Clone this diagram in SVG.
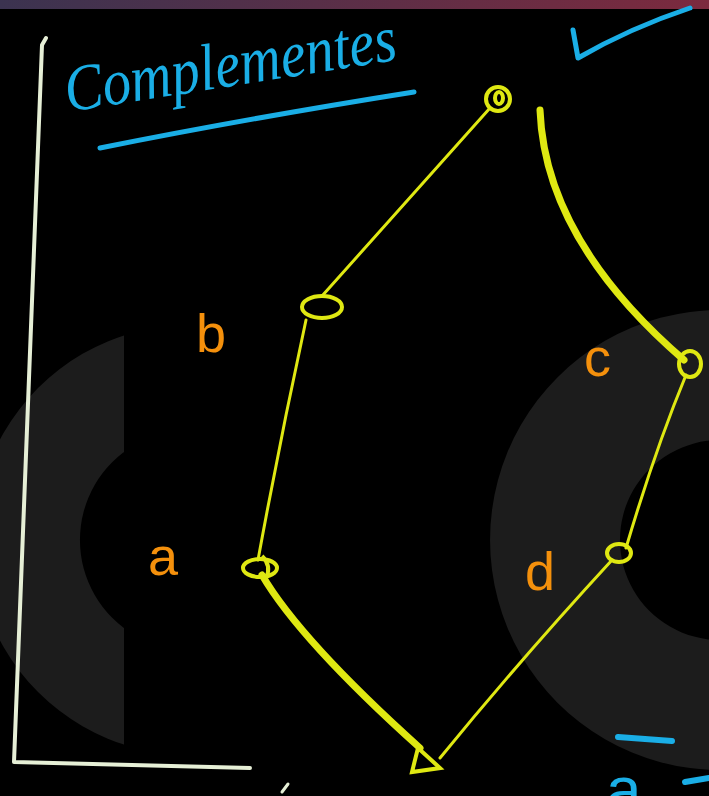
<svg xmlns="http://www.w3.org/2000/svg" width="709" height="796" viewBox="0 0 709 796">
<defs>
<linearGradient id="topbar" x1="0" y1="0" x2="1" y2="0">
<stop offset="0" stop-color="#3b3350"/>
<stop offset="1" stop-color="#7c2a3e"/>
</linearGradient>
<clipPath id="leftclip"><rect x="0" y="0" width="124" height="796"/></clipPath>
</defs>
<style>
.edge{fill:none;stroke:#dfe812;stroke-linecap:round;stroke-linejoin:round}
.thin{stroke-width:3}
.thick{stroke-width:7}
.node{fill:none;stroke:#dfe812;stroke-width:4}
.lbl{font-family:"Liberation Sans","DejaVu Sans",sans-serif;fill:#f4900c;font-size:54px}
.blue{fill:none;stroke:#1aaee6;stroke-linecap:round;stroke-linejoin:round}
.ring{fill:#1c1c1c;fill-rule:evenodd}
</style>
<rect x="0" y="0" width="709" height="796" fill="#000"/>
<rect x="0" y="0" width="709" height="9" fill="url(#topbar)"/>
<g id="background">
<path class="ring" clip-path="url(#leftclip)" d="M190,325 a215,215 0 1,0 0.1,0 Z M190,430 a110,110 0 1,1 -0.1,0 Z"/>
<path class="ring" d="M720,310 a230,230 0 1,0 0.1,0 Z M720,440 a100,100 0 1,1 -0.1,0 Z"/>
</g>
<g id="bracket">
<path d="M46,38 L42,45 L14,762 L250,768" fill="none" stroke="#e6efd6" stroke-width="4" stroke-linecap="round" stroke-linejoin="round"/>
<path d="M282,792 L288,784" fill="none" stroke="#e6efd6" stroke-width="3" stroke-linecap="round"/>
</g>
<g id="title">
<text x="68" y="112" transform="rotate(-9 68 112)" font-family="'Liberation Serif','DejaVu Serif',serif" font-style="italic" font-size="66" fill="#1aaee6" textLength="335" lengthAdjust="spacingAndGlyphs">Complementes</text>
<path class="blue" stroke-width="5" d="M100,148 Q250,118 414,92"/>
<path class="blue" stroke-width="5" d="M573,30 L578,58 Q630,28 690,8"/>
</g>
<g id="connectors">
<path class="edge thin" d="M490,108 L322,296"/>
<path class="edge thin" d="M306,320 Q280,440 258,560"/>
<path class="edge thick" d="M262,575 Q300,640 420,748"/>
<path class="edge thin" d="M440,758 Q520,660 612,560"/>
<path class="edge thin" d="M626,548 Q655,450 686,375"/>
<path class="edge thick" d="M540,110 Q545,240 684,360"/>
</g>
<g id="node-top"><ellipse class="node" cx="498" cy="99" rx="12" ry="12"/><ellipse class="node" cx="499" cy="98" rx="4" ry="6"/></g>
<g id="node-b"><ellipse class="node" cx="322" cy="307" rx="20" ry="11" stroke-width="7"/></g>
<g id="node-a"><ellipse class="node" cx="260" cy="568" rx="17" ry="9"/><path class="node" d="M262,556 Q272,566 266,578"/></g>
<g id="node-bottom"><path class="node" stroke-width="6" d="M418,748 L412,772 L440,768 Z"/></g>
<g id="node-d"><ellipse class="node" cx="619" cy="553" rx="12" ry="9"/></g>
<g id="node-c"><ellipse class="node" cx="690" cy="364" rx="11" ry="13" stroke-width="5"/></g>
<g id="labels">
<text class="lbl" x="196" y="352">b</text>
<text class="lbl" x="584" y="376" font-size="40">c</text>
<text class="lbl" x="148" y="575">a</text>
<text class="lbl" x="525" y="590">d</text>
</g>
<g id="corner">
<path class="blue" stroke-width="6" d="M618,737 L672,741"/>
<text x="606" y="812" font-family="'Liberation Sans',sans-serif" font-size="64" fill="#1aaee6">a</text>
<path class="blue" stroke-width="6" d="M685,782 L709,778"/>
</g>
</svg>
